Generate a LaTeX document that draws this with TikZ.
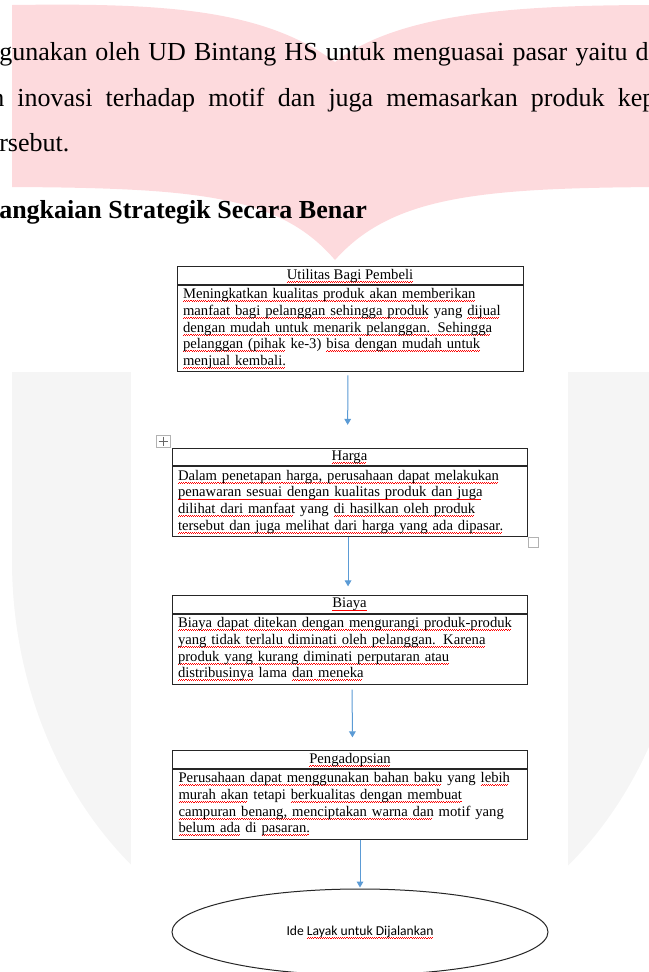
\documentclass[tikz,border=0pt]{standalone}
\usepackage{fontspec}
\setmainfont{Liberation Serif}
\newfontfamily\calibri{Carlito}
\usepackage{tikz}
\usetikzlibrary{arrows.meta}
\usetikzlibrary{shapes.geometric}
\definecolor{wmpink}{RGB}{253,218,221}
\definecolor{wmgrey}{RGB}{245,245,245}
\definecolor{flowblue}{RGB}{91,155,213}
\newsavebox{\sqbox}
\newcommand{\wavepiece}{\hbox{\rule[0pt]{0.8pt}{0.35pt}\rule[0.6pt]{0.8pt}{0.35pt}}}
\newcommand{\sq}[1]{\leavevmode\sbox{\sqbox}{#1}\rlap{\textcolor{red}{\lower2.3pt\hbox to\wd\sqbox{\leaders\wavepiece\hfill}}}\usebox{\sqbox}}

\begin{document}
\begin{tikzpicture}[x=0.75pt,y=-0.75pt]
	\useasboundingbox (0,0) rectangle (649,972);
	\fill[wmpink] (12,5) .. controls (160,3) and (262,8) .. (335,62) .. controls (400,12) and (520,5) .. (660,5) -- (660,187) .. controls (480,188) and (392,196) .. (335,260) .. controls (280,196) and (200,188) .. (12,187) -- cycle;
	\fill[wmgrey] (12,372) -- (688,372) -- (688,560) arc[start angle=0, end angle=180, x radius=338, y radius=400] -- cycle;
	\fill[white] (131,372) rectangle (568,980);

	\begin{scope}[every node/.style={anchor=base west,inner sep=0pt,font=\fontsize{19.5}{23}\selectfont}]
		\node (line1) at (-1,60) {\makebox[487pt][s]{gunakan oleh UD Bintang HS untuk menguasai pasar yaitu d}};
		\node (line2) at (-9,106) {\makebox[498pt][s]{n inovasi terhadap motif dan juga memasarkan produk kep}};
		\node (line3) at (-1,151) {rsebut.};
		\node[font=\fontsize{19.5}{23}\selectfont\bfseries] (judul) at (-1,218) {angkaian Strategik Secara Benar};
	\end{scope}

	\begin{scope}[boxhead/.style={draw=black!85,line width=0.75pt,minimum height=13pt,inner sep=0pt,font=\fontsize{11}{12.5}\selectfont},
	              boxbody/.style={draw=black!85,line width=0.75pt,anchor=north,align=left,inner xsep=4.5pt,inner ysep=2.5pt,font=\fontsize{11}{12.5}\selectfont}]
		\node[boxhead,minimum width=259.5pt] (uhead) at (350,275.5) {\sq{Utilitas Bagi Pembeli}};
		\node[boxbody,text width=250.5pt] (ubody) at (uhead.south) {\sq{Meningkatkan kualitas produk akan memberikan}\\
			\sq{manfaat bagi pelanggan sehingga produk} yang \sq{dijual}\\
			\sq{dengan mudah untuk menarik pelanggan. Sehingga}\\
			\sq{pelanggan (pihak} ke-3) \sq{bisa dengan mudah untuk}\\
			\sq{menjual kembali.}};
		\node[boxhead,minimum width=266.25pt] (hhead) at (349.5,457) {\sq{Harga}};
		\node[boxbody,text width=257.25pt] (hbody) at (hhead.south) {\sq{Dalam penetapan harga, perusahaan dapat melakukan}\\
			\sq{penawaran sesuai dengan kualitas produk dan juga}\\
			\sq{dilihat dari manfaat} yang \sq{di hasilkan oleh produk}\\
			\sq{tersebut dan juga melihat dari harga yang ada dipasar.}};
		\node[boxhead,minimum width=266.25pt] (bhead) at (349.5,604.5) {\sq{Biaya}};
		\node[boxbody,text width=257.25pt] (bbody) at (bhead.south) {\sq{Biaya dapat ditekan dengan mengurangi produk-produk}\\
			\sq{yang tidak terlalu diminati oleh pelanggan. Karena}\\
			\sq{produk yang kurang diminati perputaran atau}\\
			\sq{distribusinya} lama \sq{dan meneka}};
		\node[boxhead,minimum width=266.25pt] (phead) at (350,759.5) {\sq{Pengadopsian}};
		\node[boxbody,text width=257.25pt] (pbody) at (phead.south) {\sq{Perusahaan dapat menggunakan bahan baku} yang \sq{lebih}\\
			\sq{murah akan} tetapi \sq{berkualitas dengan membuat}\\
			\sq{campuran benang, menciptakan warna dan} motif yang\\
			\sq{belum ada} di \sq{pasaran.}};
		\node[ellipse,draw=black!85,line width=0.75pt,minimum width=282pt,minimum height=64.5pt,inner sep=0pt,font=\calibri\fontsize{10.2}{12}\selectfont] (ide) at (360,932) {Ide \sq{Layak untuk Dijalankan}};
	\end{scope}

	\draw[gray!60,line width=0.5pt] (156,435) rectangle (170,447);
	\draw[gray!80!black,line width=0.4pt] (158.5,441) -- (167.5,441) (163,436.5) -- (163,445.5);
	\draw[gray!60,line width=0.5pt] (528,537) rectangle (538,547);

	\begin{scope}[>={Triangle[width=5pt,length=4.5pt]},
	              every edge/.style={draw=flowblue,line width=0.75pt}]
		\path ([xshift=-1.5pt]ubody.south) edge[->,shorten <=2.25pt,shorten >=17.25pt] ([xshift=-1.5pt]hhead.north);
		\path ([xshift=-1.1pt]hbody.south) edge[->,shorten >=6.75pt] ([xshift=-1.1pt]bhead.north);
		\path ([xshift=1.9pt]bbody.south) edge[->,shorten <=3.75pt,shorten >=9.75pt] ([xshift=1.9pt]phead.north);
		\path ([xshift=7.5pt]pbody.south) edge[->,shorten >=0.75pt] (ide.north);
	\end{scope}
\end{tikzpicture}
\end{document}
